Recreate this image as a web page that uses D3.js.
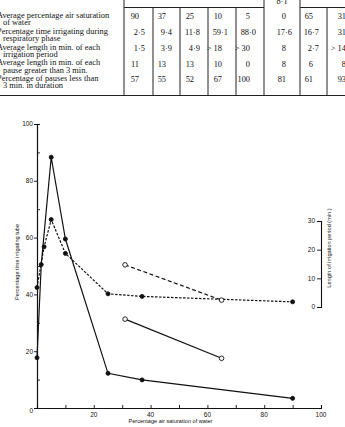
<!DOCTYPE html>
<html>
<head>
<meta charset="utf-8">
<script src="https://cdn.jsdelivr.net/npm/d3@7"></script>
<style>
  body { margin: 0; background: #fff; }
  svg { display: block; }
  .tbl text { font-family: "Liberation Serif", "DejaVu Serif", serif; font-size: 8.4px; fill: #111; }
  .ax text { font-family: "Liberation Sans", Arial, sans-serif; fill: #111; }
</style>
</head>
<body>
<script>
// table fragment above the figure
var rowLabels = [
  ["Average percentage air saturation", "of water"],
  ["Percentage time irrigating during", "respiratory phase"],
  ["Average length in min. of each", "irrigation period"],
  ["Average length in min. of each", "pause greater than 3 min."],
  ["Percentage of pauses less than", "3 min. in duration"]
];
var tableRows = [
  ["90", "37", "25", "10", "5", "0", "65", "31"],
  ["2·5", "9·4", "11·8", "59·1", "88·0", "17·6", "16·7", "31"],
  ["1·5", "3·9", "4·9", "> 18", "> 30", "8", "2·7", "> 14"],
  ["11", "13", "13", "10", "0", "8", "6", "8"],
  ["57", "55", "52", "67", "100", "81", "61", "93"]
];
var headerNote = "8·1";

// figure: % time irrigating (left axis) and length of irrigation period (right axis)
var irrigSat = [0, 1.5, 5, 10, 25, 37, 90];
var irrigPct = [17.7, 50.5, 88.3, 59.5, 12.2, 9.9, 3.4];
var lengthSat = [0, 2.5, 5, 10, 25, 37, 90];
var lengthMin = [6.8, 21, 30.5, 18.7, 4.6, 3.7, 1.8];
var openSat = [31, 65];
var openPct = [31.3, 17.5];
var openMin = [14.7, 2.4];

var xTicks = [0, 20, 40, 60, 80, 100];
var yTicks = [0, 20, 40, 60, 80, 100];
var rTicks = [0, 10, 20, 30];

var W = 345, H = 427;
var svg = d3.select("body").append("svg")
    .attr("width", W)
    .attr("height", H);

// ---- table ----
var colEdges = [124, 153, 180, 208, 236, 264, 300, 327, 360];
var rowY = [17.5, 33.5, 49.5, 65, 80.5];
var lineGap = 7.8;

var t = svg.append("g").attr("class", "tbl");
function rule(x1, y1, x2, y2) {
  t.append("line")
    .attr("x1", x1).attr("y1", y1).attr("x2", x2).attr("y2", y2)
    .attr("stroke", "#222")
    .attr("stroke-width", 1);
}
rule(124, 7.5, 264, 7.5);
rule(300, 7.5, W, 7.5);
rule(-5, 95.5, W, 95.5);
colEdges.slice(0, 8).forEach(function(cx, i) {
  rule(cx, (i === 0 || i === 5 || i === 6) ? 0 : 7.5, cx, 95.5);
});

t.append("text").attr("x", 282).attr("y", 4).attr("text-anchor", "middle").text(headerNote);

rowLabels.forEach(function(lab, i) {
  t.append("text").attr("x", -3).attr("y", rowY[i]).text(lab[0]);
  t.append("text").attr("x", 3).attr("y", rowY[i] + lineGap).text(lab[1]);
  tableRows[i].forEach(function(v, j) {
    var dec = colEdges[j + 1] - 14;
    t.append("text")
      .attr("x", v.indexOf("·") >= 0 ? dec + 6 : dec)
      .attr("y", rowY[i] + 1.5)
      .attr("text-anchor", "end")
      .text(v);
  });
});

// ---- chart ----
var x = d3.scaleLinear().domain([0, 100]).range([37, 321]);
var y = d3.scaleLinear().domain([0, 100]).range([408, 124]);
var yR = d3.scaleLinear().domain([0, 30]).range([307, 221]);

var g = svg.append("g").attr("class", "ax");

// axes: minor ticks every 10, labels every 20
var xAxis = d3.axisBottom(x).tickValues(d3.range(0, 101, 10)).tickSize(-3).tickFormat("");
g.append("g").attr("transform", "translate(0," + y(0) + ")").call(xAxis);
var yAxisMinor = d3.axisRight(y).tickValues(d3.range(10, 100, 20)).tickSize(3).tickFormat("");
g.append("g").attr("transform", "translate(" + x(0) + ",0)").call(yAxisMinor);
var yAxis = d3.axisLeft(y).tickValues(yTicks.slice(1)).tickSize(3).tickFormat("");
g.append("g").attr("transform", "translate(" + x(0) + ",0)").call(yAxis);
var rAxis = d3.axisLeft(yR).tickValues(rTicks).tickSize(4).tickFormat("");
g.append("g").attr("transform", "translate(" + x(100) + ",0)").call(rAxis);
g.selectAll(".domain").attr("stroke", "#111").attr("stroke-width", 1.1);
g.selectAll(".tick line").attr("stroke", "#111").attr("stroke-width", 0.9);

// tick labels
g.selectAll(".xl").data(xTicks.slice(1)).enter().append("text")
  .attr("x", function(d) { return x(d); })
  .attr("y", y(0) + 9)
  .attr("text-anchor", "middle")
  .attr("font-size", 6.5)
  .text(function(d) { return d; });
g.selectAll(".yl").data(yTicks).enter().append("text")
  .attr("x", x(0) - 4)
  .attr("y", function(d) { return y(d) + (d === 0 ? 5 : 2.3); })
  .attr("text-anchor", "end")
  .attr("font-size", 6.5)
  .text(function(d) { return d; });
g.selectAll(".rl").data(rTicks).enter().append("text")
  .attr("x", x(100) - 6)
  .attr("y", function(d) { return yR(d) + 2.3; })
  .attr("text-anchor", "end")
  .attr("font-size", 6.5)
  .text(function(d) { return d; });

// axis titles
g.append("text")
  .attr("transform", "translate(" + 19 + "," + 262 + ") rotate(-90)")
  .attr("text-anchor", "middle")
  .attr("font-size", 5.6)
  .text("Percentage time irrigating tube");
g.append("text")
  .attr("x", x(47))
  .attr("y", 423)
  .attr("text-anchor", "middle")
  .attr("font-size", 5.6)
  .text("Percentage air saturation of water");
g.append("text")
  .attr("transform", "translate(" + 331 + "," + 248 + ") rotate(-90)")
  .attr("text-anchor", "middle")
  .attr("font-size", 5.6)
  .text("Length of irrigation period (min.)");

// series
function series(xs, ys, yScale, dash, open) {
  var pts = xs.map(function(d, i) { return [x(d), yScale(ys[i])]; });
  svg.append("path")
    .attr("d", d3.line()(pts))
    .attr("fill", "none")
    .attr("stroke", "#111")
    .attr("stroke-width", 1.2)
    .attr("stroke-dasharray", dash);
  svg.selectAll(null).data(pts).enter().append("circle")
    .attr("cx", function(d) { return d[0]; })
    .attr("cy", function(d) { return d[1]; })
    .attr("r", open ? 2.3 : 2)
    .attr("fill", open ? "#fff" : "#111")
    .attr("stroke", "#111")
    .attr("stroke-width", 0.9);
}

series(irrigSat, irrigPct, y, null, false);
series(lengthSat, lengthMin, yR, "2.5,1.5", false);
series(openSat, openPct, y, null, true);
series(openSat, openMin, yR, "4,2.5", true);
</script>
</body>
</html>
